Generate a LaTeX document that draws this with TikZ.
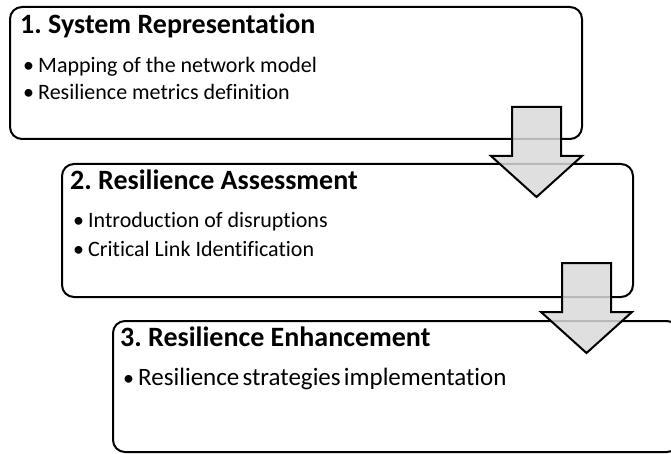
\documentclass[tikz,border=0pt]{standalone}
\usepackage{fontspec}
\setmainfont{Carlito}[Ligatures={NoCommon,NoContextual}]
\frenchspacing
\begin{document}
\begin{tikzpicture}[x=1pt,y=-1pt,
  box/.style={draw=black,line width=2pt,rounded corners=12pt,fill=none,inner sep=0pt,anchor=north west},
  bigarrow/.style={draw=black,line width=2pt,fill=black!15,fill opacity=0.85,line join=miter},
  title/.style={font=\fontsize{28}{30}\selectfont\bfseries,inner sep=0pt,anchor=base west},
  item/.style={font=\fontsize{22}{26}\selectfont,inner sep=0pt,anchor=base west},
  itemb/.style={font=\fontsize{25}{28}\selectfont,inner sep=0pt,anchor=base west}]
\useasboundingbox (0,0) rectangle (671,454);
\clip (0,0) rectangle (671,454);
% boxes
\node[box,minimum width=572pt,minimum height=132pt] (b1) at (9,6) {};
\node[box,minimum width=571pt,minimum height=133pt] (b2) at (61,163) {};
\node[box,minimum width=566pt,minimum height=131pt] (b3) at (112,320) {};
% arrows
\coordinate (a1) at (536.5,107);
\coordinate (a2) at (586.5,263);
\foreach \a in {a1,a2}{
  \draw[bigarrow] ([xshift=-24.5pt]\a) -- ([xshift=24.5pt]\a) -- ([xshift=24.5pt,yshift=-49pt]\a)
    -- ([xshift=45.5pt,yshift=-49pt]\a) -- ([yshift=-90pt]\a) -- ([xshift=-45.5pt,yshift=-49pt]\a)
    -- ([xshift=-24.5pt,yshift=-49pt]\a) -- cycle;
}
% texts
\node[title] (t1) at (20,34) {1. System Representation};
\node[item] (d11) at (23,73) {•};
\node[item] (i11) at (38,73) {Mapping of the network model};
\node[item] (d12) at (23,100) {•};
\node[item] (i12) at (38,100) {Resilience metrics definition};
\node[title] (t2) at (70,190) {2. Resilience Assessment};
\node[item] (d21) at (73,228) {•};
\node[item] (i21) at (88,228) {Introduction of disruptions};
\node[item] (d22) at (73,256) {•};
\node[item] (i22) at (88,256) {Critical Link Identification};
\node[title] (t3) at (120,346) {3. Resilience Enhancement};
\node[item] (d31) at (123,385) {•};
\node[itemb] (i31) at (138,385) {\spaceskip=0.13em\relax Resilience strategies implementation};
\end{tikzpicture}
\end{document}
